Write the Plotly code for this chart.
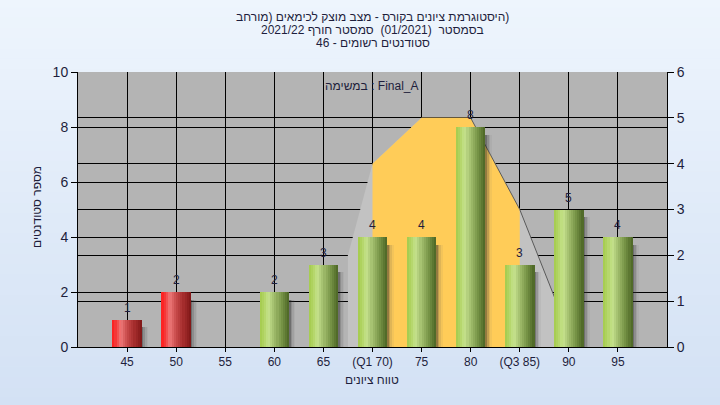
import plotly.graph_objects as go

# ---------------- data ----------------
grades = [45, 50, 55, 60, 65, 70, 75, 80, 85, 90, 95]
tick_labels = ["45", "50", "55", "60", "65", "(Q1 70)", "75", "80", "(Q3 85)", "90", "95"]
counts = [1, 2, 0, 2, 3, 4, 4, 8, 3, 5, 4]
failing = [True, True, False, False, False, False, False, False, False, False, False]

# distribution curve (right axis)
curve_x = [67.5, 70, 75, 80, 85, 88.7]
curve_y = [2, 4, 5, 5, 3, 1]
iqr_x = [70, 75, 80, 85]
iqr_y = [4, 5, 5, 3]
edge_x = [80, 85, 88.7]
edge_y = [5, 3, 1]

title_line1 = "\u2067(היסטוגרמת ציונים בקורס - מצב מוצק לכימאים (מורחב\u2069"
title_line2 = "בסמסטר  (01/2021)  סמסטר חורף 2021/22"
title_line3 = "סטודנטים רשומים - 46"
task_label = "במשימה : Final_A"
x_title = "טווח ציונים"
y_title = "מספר סטודנטים"


def hex2rgb(h):
    h = h.lstrip("#")
    return tuple(int(h[i:i + 2], 16) for i in (0, 2, 4))


def interp(stops, t):
    for (t0, c0), (t1, c1) in zip(stops, stops[1:]):
        if t0 <= t <= t1:
            f = (t - t0) / (t1 - t0) if t1 > t0 else 0
            a, b = hex2rgb(c0), hex2rgb(c1)
            return "rgb(%d,%d,%d)" % tuple(round(a[i] + (b[i] - a[i]) * f) for i in range(3))
    return stops[-1][1]


green_stops = [(0, "#a3cb4c"), (0.15, "#b2d565"), (0.3, "#c6e28d"), (0.5, "#a0bc6c"),
               (0.75, "#759245"), (1.0, "#4b6524")]
red_stops = [(0, "#ff1a1a"), (0.12, "#f43a3a"), (0.28, "#ee7a7a"), (0.5, "#c84a4a"),
             (0.75, "#a42c2c"), (1.0, "#7e1616")]

FONT = "Liberation Sans, Arial, DejaVu Sans, sans-serif"
TXT = "#1e1e3c"
BAR_W = 3.0
N_SL = 14

fig = go.Figure()

# area (right-hand axis, y) -- drawn under the bars
fig.add_trace(go.Scatter(x=curve_x, y=curve_y, mode="lines", fill="tozeroy",
                         line=dict(width=0, color="#c2c2c2"), fillcolor="#c2c2c2",
                         yaxis="y", hoverinfo="skip", showlegend=False))
fig.add_trace(go.Scatter(x=iqr_x, y=iqr_y, mode="lines", fill="tozeroy",
                         line=dict(width=0, color="#ffcc58"), fillcolor="#ffcc58",
                         yaxis="y", hoverinfo="skip", showlegend=False))
fig.add_trace(go.Scatter(x=edge_x, y=edge_y, mode="lines",
                         line=dict(width=1, color="#5a5a5a"),
                         yaxis="y", hoverinfo="skip", showlegend=False))

# bar shadows (left axis, y2)
shadow_cols = ["rgba(40,40,40,0.5)", "rgba(60,60,60,0.32)", "rgba(80,80,80,0.18)", "rgba(100,100,100,0.08)"]
for i, c in enumerate(shadow_cols):
    fig.add_trace(go.Bar(x=grades, y=[max(v - 0.28, 0) if v > 0 else 0 for v in counts],
                         offset=BAR_W / 2 + i * 0.16, width=0.16,
                         marker=dict(color=c, line=dict(width=0)),
                         yaxis="y2", hoverinfo="skip", showlegend=False))

# gradient bars: vertical slices
sw = BAR_W / N_SL
for i in range(N_SL):
    t = (i + 0.5) / N_SL
    cols = [interp(red_stops, t) if f else interp(green_stops, t) for f in failing]
    fig.add_trace(go.Bar(x=grades, y=counts, offset=-BAR_W / 2 + i * sw, width=sw * 1.02,
                         marker=dict(color=cols, line=dict(width=0)),
                         yaxis="y2", hoverinfo="skip", showlegend=False))

# value labels
annotations = []
for g, v in zip(grades, counts):
    if v > 0:
        annotations.append(dict(x=g, y=v, xref="x", yref="y2", text=str(v), showarrow=False,
                                yanchor="bottom", yshift=3, font=dict(size=12, color=TXT, family=FONT)))

# titles
for line, py in zip([title_line1, title_line2, title_line3], [17, 30, 43]):
    annotations.append(dict(x=0.5, xref="paper", xanchor="center", y=(347 - py) / 275, yref="paper",
                            yanchor="middle", text=line, showarrow=False,
                            font=dict(size=12, color=TXT, family=FONT)))
annotations.append(dict(x=(372 - 78) / 589, xref="paper", y=(347 - 86) / 275, yref="paper",
                        text=task_label, showarrow=False, yanchor="middle",
                        font=dict(size=12, color=TXT, family=FONT)))
annotations.append(dict(x=(372 - 78) / 589, xref="paper", y=(347 - 380) / 275, yref="paper",
                        text=x_title, showarrow=False, yanchor="middle",
                        font=dict(size=12, color=TXT, family=FONT)))
annotations.append(dict(x=(37 - 78) / 589, xref="paper", y=(347 - 207) / 275, yref="paper",
                        text=y_title, showarrow=False, textangle=-90, xanchor="center", yanchor="middle",
                        font=dict(size=12, color=TXT, family=FONT)))

# background gradient bands + plot area
shapes = []
NB = 40
top_p, bot_p = 1 + 72 / 275 + 0.01, -58 / 275 - 0.01
for k in range(NB):
    y0 = bot_p + (top_p - bot_p) * k / NB
    y1 = bot_p + (top_p - bot_p) * (k + 1) / NB + 0.002
    t = 1 - (k + 0.5) / NB
    col = interp([(0, "#eef5fd"), (1, "#d3e1f4")], t)
    shapes.append(dict(type="rect", xref="paper", yref="paper", x0=-0.2, x1=1.2, y0=y0, y1=y1,
                       fillcolor=col, line=dict(width=0), layer="below"))
shapes.append(dict(type="rect", xref="paper", yref="paper", x0=0, x1=1, y0=0, y1=1,
                   fillcolor="#b4b4b4", line=dict(width=0), layer="below"))

fig.update_layout(
    width=720, height=405,
    margin=dict(l=78, r=53, t=72, b=58),
    paper_bgcolor="#e2ecf8", plot_bgcolor="rgba(0,0,0,0)",
    barmode="overlay", bargap=0,
    showlegend=False,
    font=dict(family=FONT, size=12, color=TXT),
    xaxis=dict(range=[40, 100], tickvals=grades, ticktext=tick_labels, showgrid=True,
               gridcolor="black", gridwidth=1, zeroline=False, showline=True, linecolor="black",
               ticks="outside", ticklen=4, tickcolor="black", tickfont=dict(size=12, color=TXT)),
    yaxis=dict(range=[0, 6], side="right", dtick=1, showgrid=True, gridcolor="black", gridwidth=1,
               zeroline=False, showline=True, linecolor="black", ticks="outside", ticklen=6,
               tickcolor="black", tickfont=dict(size=14, color=TXT)),
    yaxis2=dict(range=[0, 10], side="left", overlaying="y", dtick=2, showgrid=True, gridcolor="black",
                gridwidth=1, zeroline=False, showline=True, linecolor="black", ticks="outside",
                ticklen=6, tickcolor="black", tickfont=dict(size=14, color=TXT)),
    annotations=annotations,
    shapes=shapes,
)

fig.write_html("out.html", config={"displayModeBar": False},
               post_script="document.body.style.margin='0';document.body.style.background='#e2ecf8';")
